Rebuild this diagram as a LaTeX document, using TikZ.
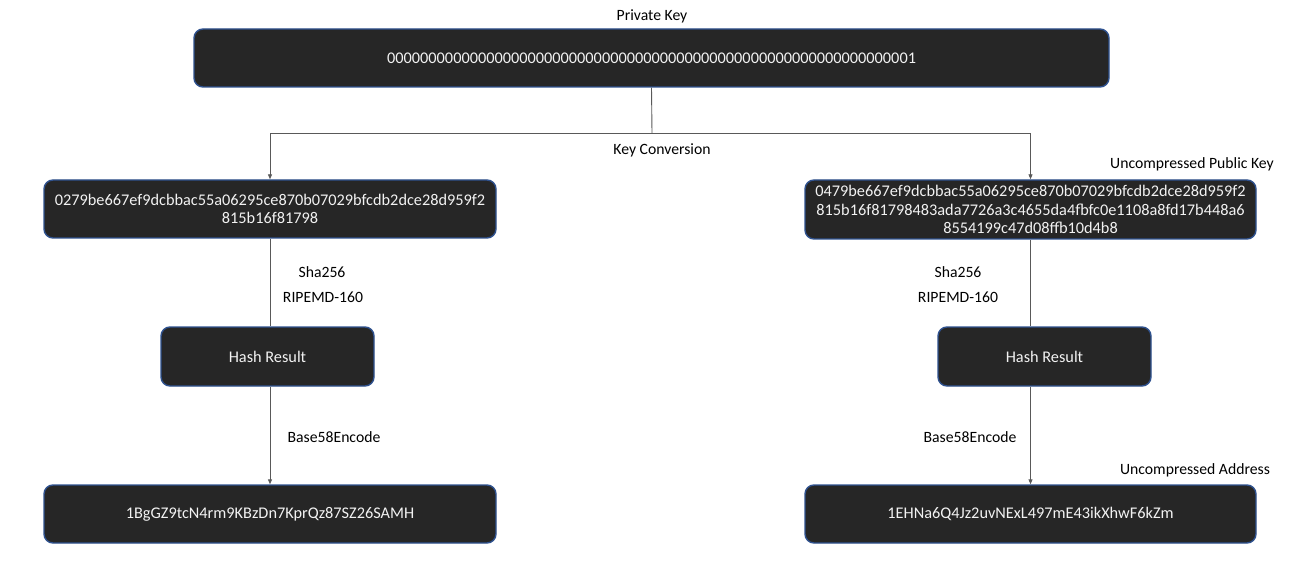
\documentclass[tikz,border=0pt]{standalone}
\usepackage{fontspec}
\setmainfont{Carlito}
\usetikzlibrary{arrows.meta}
\definecolor{boxfill}{HTML}{262626}
\definecolor{boxedge}{HTML}{2F528F}
\definecolor{linecol}{HTML}{595959}
\definecolor{boxtext}{HTML}{F2F2F2}
\tikzset{
  keybox/.style={draw=boxedge, line width=1.4pt, fill=boxfill, rounded corners=9pt,
    text=boxtext, align=center, inner sep=0pt,
    font=\fontsize{16.3}{18.6}\selectfont},
  lbl/.style={text=black, inner sep=0pt, font=\fontsize{15.7}{18.6}\selectfont},
  conn/.style={draw=linecol, line width=0.9pt},
  arr/.style={conn, -{Triangle[length=5pt,width=4pt]}}
}
\begin{document}
\begin{tikzpicture}[x=1pt,y=-1pt]
\useasboundingbox[fill=white] (0,0) rectangle (1310,564);
% boxes
\node[keybox, minimum width=915pt, minimum height=58pt] (pk) at (651.5,58) {0000000000000000000000000000000000000000000000000000000000000001};
\node[keybox, minimum width=452pt, minimum height=58pt] (b1) at (270,209) {0279be667ef9dcbbac55a06295ce870b07029bfcdb2dce28d959f2\\815b16f81798};
\node[keybox, minimum width=451pt, minimum height=59pt] (b2) at (1030.5,209.5) {0479be667ef9dcbbac55a06295ce870b07029bfcdb2dce28d959f2\\815b16f81798483ada7726a3c4655da4fbfc0e1108a8fd17b448a6\\8554199c47d08ffb10d4b8};
\node[keybox, minimum width=213pt, minimum height=59pt] (h1) at (267.5,356.5) {Hash Result};
\node[keybox, minimum width=213pt, minimum height=59pt] (h2) at (1044.5,356.5) {Hash Result};
\node[keybox, minimum width=452pt, minimum height=58pt] (a1) at (270,514) {1BgGZ9tcN4rm9KBzDn7KprQz87SZ26SAMH};
\node[keybox, minimum width=451pt, minimum height=58pt] (a2) at (1030.5,514) {1EHNa6Q4Jz2uvNExL497mE43ikXhwF6kZm};
% labels
\node[lbl] (lpk) at (652,16) {Private Key};
\node[lbl] (lkc) at (662,150) {Key Conversion};
\node[lbl] (lupk) at (1192,164) {Uncompressed Public Key};
\node[lbl] (ls1) at (322,272) {Sha256};
\node[lbl] (lr1) at (323,297) {RIPEMD-160};
\node[lbl] (ls2) at (958,272) {Sha256};
\node[lbl] (lr2) at (958,297) {RIPEMD-160};
\node[lbl] (lb1) at (334,437) {Base58Encode};
\node[lbl] (lb2) at (970,437) {Base58Encode};
\node[lbl] (lua) at (1195,470) {Uncompressed Address};
% connectors
\coordinate (split) at (652,133);
\draw[conn] (pk.south) -- (split);
\draw[arr] (split) -| (b1.north);
\draw[arr] (split) -| (b2.north);
\draw[conn] (b1.south) -- (b1.south |- h1.north);
\draw[arr] (b1.south |- h1.south) -- (a1.north);
\draw[conn] (b2.south) -- (b2.south |- h2.north);
\draw[arr] (b2.south |- h2.south) -- (a2.north);
\end{tikzpicture}
\end{document}
